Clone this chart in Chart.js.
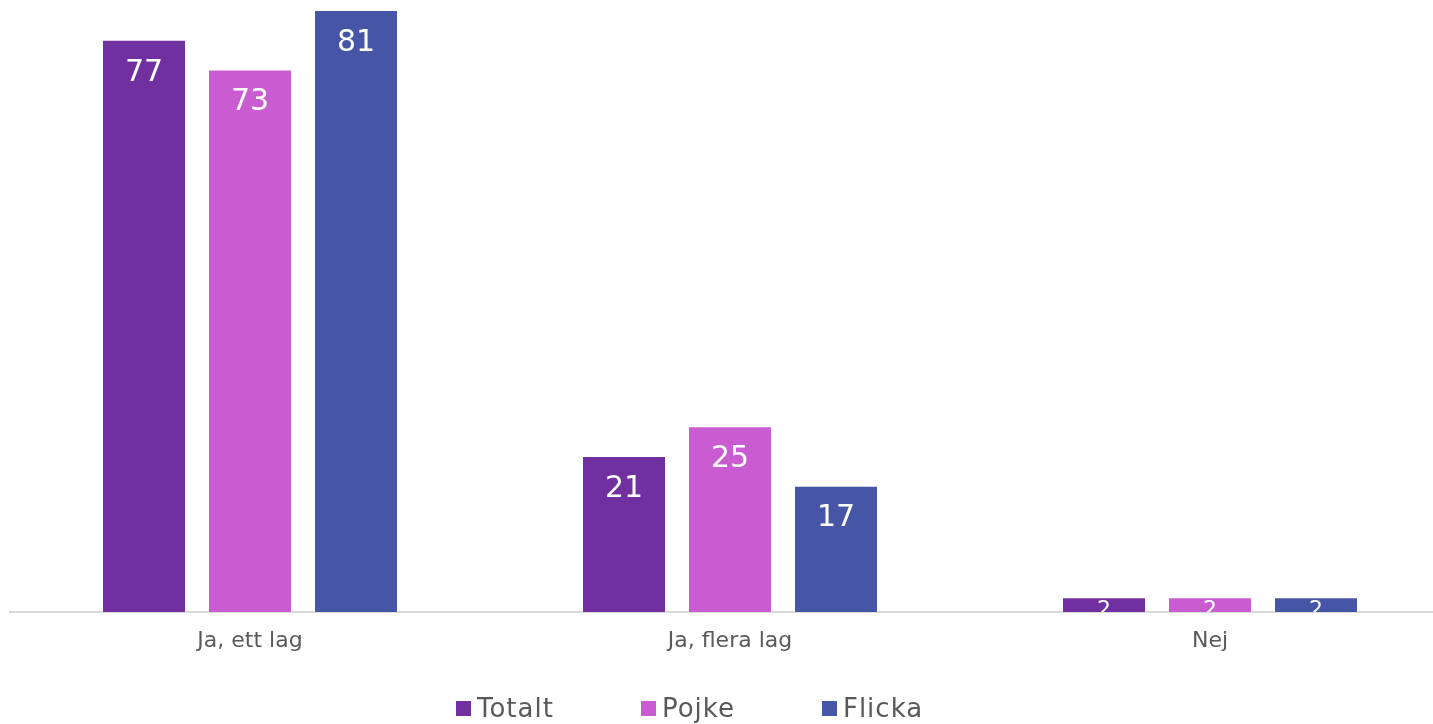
<!DOCTYPE html>
<html>
<head>
<meta charset="utf-8">
<script src="https://cdn.jsdelivr.net/npm/chart.js@4/dist/chart.umd.min.js"></script>
<style>
  html, body { margin: 0; padding: 0; background: #fff; overflow: hidden; }
  #wrap { position: relative; width: 1433px; height: 724px; overflow: hidden; }
  #box { position: absolute; left: 0; top: 0; width: 1450px; height: 724px; }
  #legend { position: absolute; left: 456px; top: 693px; display: flex; font-family: "DejaVu Sans", Verdana, sans-serif; font-size: 26px; line-height: 30px; letter-spacing: 1px; color: #595959; white-space: nowrap; }
  .item { display: flex; align-items: flex-start; margin-right: 87px; }
  .sw { width: 15px; height: 15px; margin-top: 8px; margin-right: 6px; }
</style>
</head>
<body>
<div id="wrap">
  <div id="box"><canvas id="c" width="1450" height="724"></canvas></div>
  <div id="legend"></div>
</div>
<script>
const categories = ["Ja, ett lag", "Ja, flera lag", "Nej"];
const seriesNames = ["Totalt", "Pojke", "Flicka"];
const totalt = [77, 21, 2];
const pojke = [73, 25, 2];
const flicka = [81, 17, 2];
const colors = ["#7030A0", "#CA5CD2", "#4655A5"];

const labelPlugin = {
  id: 'barLabels',
  afterDatasetsDraw(chart) {
    const ctx = chart.ctx;
    chart.data.datasets.forEach((ds, di) => {
      const meta = chart.getDatasetMeta(di);
      meta.data.forEach((bar, i) => {
        const p = bar.getProps(['x', 'y', 'base', 'width'], true);
        const left = p.x - p.width / 2;
        const h = p.base - p.y;
        ctx.save();
        ctx.beginPath();
        ctx.rect(left, p.y, p.width, h);
        ctx.clip();
        ctx.fillStyle = '#ffffff';
        ctx.textAlign = 'center';
        ctx.textBaseline = 'middle';
        let ty;
        if (h > 60) {
          ctx.font = '30px "DejaVu Sans", Verdana, sans-serif';
          ty = p.y + 33;
        } else {
          ctx.font = '22px "DejaVu Sans", Verdana, sans-serif';
          ty = p.y + 13;
        }
        ctx.fillText(String(ds.data[i]), p.x, ty);
        ctx.restore();
      });
    });
  }
};

const data = {
  labels: categories,
  datasets: [
    { label: seriesNames[0], data: totalt, backgroundColor: colors[0] },
    { label: seriesNames[1], data: pojke, backgroundColor: colors[1] },
    { label: seriesNames[2], data: flicka, backgroundColor: colors[2] }
  ].map(d => Object.assign(d, {
    borderColor: 'rgba(255,255,255,0.35)',
    borderWidth: 1,
    categoryPercentage: 0.6625,
    barPercentage: 0.7925
  }))
};

const chart = new Chart(document.getElementById('c'), {
  type: 'bar',
  data: data,
  options: {
    responsive: false,
    animation: false,
    layout: { padding: { left: 10, top: 10, right: 0, bottom: 0 } },
    plugins: { legend: { display: false }, tooltip: { enabled: false } },
    scales: {
      x: {
        grid: { display: false, drawTicks: false },
        border: { display: true, color: '#d9d9d9', width: 2 },
        ticks: {
          color: '#595959',
          font: { family: '"DejaVu Sans", Verdana, sans-serif', size: 22 },
          padding: 16
        },
        afterFit(scale) { scale.height = 112; }
      },
      y: {
        display: false,
        min: 0,
        max: 81
      }
    }
  },
  plugins: [labelPlugin]
});

const lg = document.getElementById('legend');
chart.data.datasets.forEach(ds => {
  const it = document.createElement('div');
  it.className = 'item';
  const sw = document.createElement('div');
  sw.className = 'sw';
  sw.style.background = ds.backgroundColor;
  const tx = document.createElement('span');
  tx.textContent = ds.label;
  it.appendChild(sw);
  it.appendChild(tx);
  lg.appendChild(it);
});
</script>
</body>
</html>
